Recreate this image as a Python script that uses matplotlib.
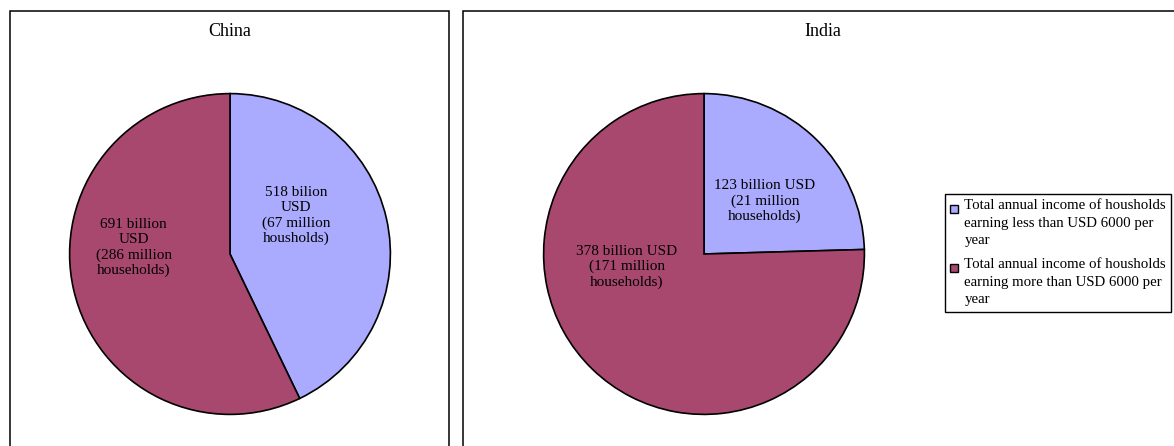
import matplotlib
matplotlib.use("Agg")
import matplotlib.pyplot as plt
from matplotlib.patches import Rectangle, Patch
from matplotlib.legend_handler import HandlerPatch

plt.rcParams['font.family'] = ['Liberation Serif', 'DejaVu Serif']

countries = ["China", "India"]
china_values = [518, 691]
india_values = [123, 378]
china_labels = ["518 bilion\nUSD\n(67 million\nhousholds)",
                "691 billion\nUSD\n(286 million\nhouseholds)"]
india_labels = ["123 billion USD\n(21 million\nhouseholds)",
                "378 billion USD\n(171 million\nhouseholds)"]
legend_labels = ["Total annual income of housholds\nearning less than USD 6000 per\nyear",
                 "Total annual income of housholds\nearning more than USD 6000 per\nyear"]
colors = ["#AAAAFE", "#A9486F"]

W, H = 1174, 446
fig = plt.figure(figsize=(W / 100, H / 100), dpi=100)

def fx(px):
    return px / W

def fy(py):
    return 1 - py / H

# panel frames (they run off the bottom / right of the image)
fig.patches.append(Rectangle((fx(10), fy(470)), fx(439), fy(11) - fy(470),
                             transform=fig.transFigure, fill=False,
                             edgecolor="black", linewidth=1.1, clip_on=False))
fig.patches.append(Rectangle((fx(463), fy(470)), fx(760), fy(11) - fy(470),
                             transform=fig.transFigure, fill=False,
                             edgecolor="black", linewidth=1.1, clip_on=False))

fig.text(fx(230), fy(32), countries[0], ha="center", va="center", fontsize=13)
fig.text(fx(823), fy(32), countries[1], ha="center", va="center", fontsize=13)

def draw_pie(left_px, values, labels, offsets):
    ax = fig.add_axes([fx(left_px), fy(416), fx(324), fy(92) - fy(416)])
    ax.pie(values, colors=colors, startangle=90, counterclock=False,
           wedgeprops=dict(edgecolor="black", linewidth=1.2))
    ax.set_xlim(-1.01, 1.01)
    ax.set_ylim(-1.01, 1.01)
    for lab, (dx, dy) in zip(labels, offsets):
        ax.text(dx, dy, lab, ha="center", va="center", fontsize=11,
                linespacing=1.2)
    return ax

draw_pie(68, china_values, china_labels, [(0.41, 0.24), (-0.60, 0.04)])
draw_pie(542, india_values, india_labels, [(0.38, 0.33), (-0.48, -0.08)])


class TopSquare(HandlerPatch):
    # small square sitting next to the first line of a multi-line label
    def create_artists(self, legend, orig_handle, xdescent, ydescent,
                       width, height, fontsize, trans):
        sq = 0.55 * fontsize
        p = Rectangle((-xdescent, -ydescent + height - sq - 0.2 * fontsize), sq, sq,
                      facecolor=orig_handle.get_facecolor(),
                      edgecolor="black", linewidth=1.0, transform=trans)
        return [p]


handles = [Patch(facecolor=c, edgecolor="black") for c in colors]
leg = fig.legend(handles, legend_labels, loc="upper left",
                 bbox_to_anchor=(fx(945), fy(194)), borderaxespad=0,
                 fontsize=10.7, frameon=True, fancybox=False,
                 handlelength=0.55, handleheight=4.3, handletextpad=0.4,
                 borderpad=0.35, labelspacing=0.75, framealpha=1,
                 handler_map={Patch: TopSquare()})
leg.get_frame().set_edgecolor("black")
leg.get_frame().set_linewidth(1.0)
for t in leg.get_texts():
    t.set_linespacing(1.45)

fig.savefig("out.png", dpi=100)
